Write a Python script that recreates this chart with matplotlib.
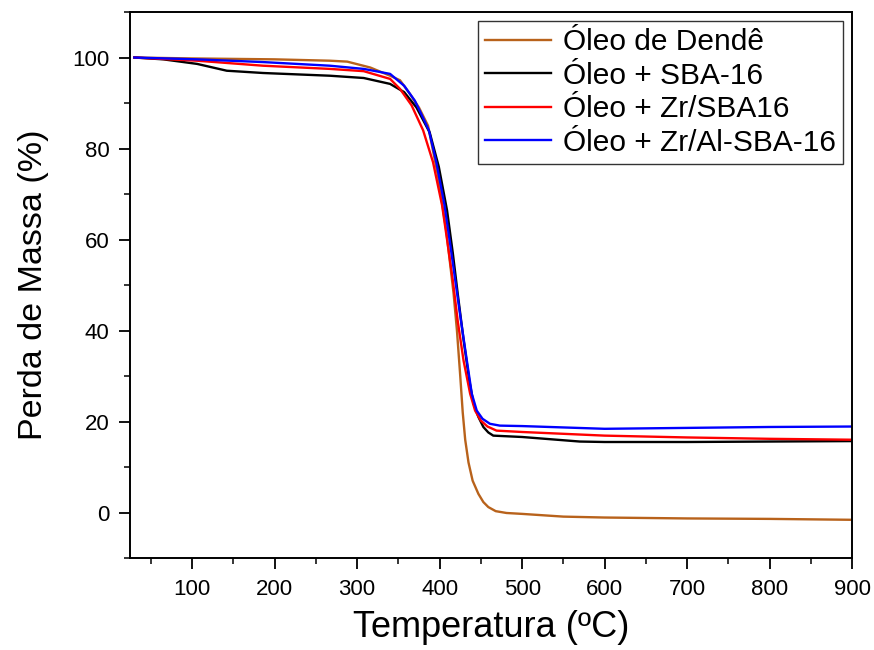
import numpy as np
import matplotlib.pyplot as plt
from matplotlib.ticker import MultipleLocator

plt.rcParams['font.family'] = ['Liberation Sans', 'DejaVu Sans']

# Óleo de Dendê
t_dende = [30, 100, 200, 267, 288, 316, 340, 352, 364, 375, 386, 398, 408, 417,
           421, 425, 428, 431, 435, 440, 447, 453, 459, 468, 481, 500, 550, 600,
           700, 800, 900]
m_dende = [100, 99.8, 99.6, 99.3, 99.1, 97.8, 96.0, 95.0, 92.0, 89.0, 85.0, 74, 62, 48,
           40, 30, 22, 16, 11, 7, 4.1, 2.3, 1.2, 0.3, -0.1, -0.3, -0.9, -1.1,
           -1.3, -1.4, -1.6]

# Óleo + SBA-16
t_sba = [30, 65, 106, 142, 186, 267, 308, 340, 357, 372, 388, 399, 409, 416,
         422, 429, 436, 441, 447, 453, 459, 465, 500, 570, 600, 700, 800, 900]
m_sba = [100, 99.6, 98.6, 97.1, 96.6, 96.0, 95.5, 94.2, 92.4, 89, 83.5, 76, 66.4, 57,
         48, 38, 29, 24, 21, 18.8, 17.6, 16.9, 16.6, 15.6, 15.5, 15.5, 15.6, 15.7]

# Óleo + Zr/SBA16
t_zr = [30, 106, 186, 267, 308, 340, 352, 366, 380, 392, 403, 409, 416, 422,
        429, 437, 443, 450, 458, 469, 500, 600, 700, 800, 900]
m_zr = [100, 99.3, 98.2, 97.5, 97.0, 95.3, 93.1, 89.5, 84, 77, 67.5, 60, 51, 42,
        33.4, 26.1, 22.4, 20.2, 18.9, 18.0, 17.7, 16.9, 16.5, 16.2, 16.0]

# Óleo + Zr/Al-SBA-16
t_zral = [30, 106, 186, 267, 308, 340, 357, 370, 378, 387, 396, 406, 412, 419,
          426, 433, 439, 445, 452, 461, 473, 500, 600, 700, 800, 900]
m_zral = [100, 99.6, 99.0, 98.2, 97.5, 96.4, 93.8, 90.5, 87.5, 84, 77, 67.5, 60, 51,
          42, 33.4, 26.1, 22.4, 20.6, 19.5, 19.1, 19.0, 18.4, 18.6, 18.8, 18.9]

fig = plt.figure(figsize=(8.74, 6.5), dpi=100)
ax = fig.add_axes([0.149, 0.1415, 0.826, 0.84])

ax.plot(t_dende, m_dende, color='#B8621B', lw=1.7, label='Óleo de Dendê')
ax.plot(t_sba, m_sba, color='black', lw=1.7, label='Óleo + SBA-16')
ax.plot(t_zr, m_zr, color='#FF0000', lw=1.7, label='Óleo + Zr/SBA16')
ax.plot(t_zral, m_zral, color='#0000FF', lw=1.7, label='Óleo + Zr/Al-SBA-16')

ax.set_xlim(25, 900)
ax.set_ylim(-10, 110)
ax.xaxis.set_major_locator(MultipleLocator(100))
ax.xaxis.set_minor_locator(MultipleLocator(50))
ax.yaxis.set_major_locator(MultipleLocator(20))
ax.yaxis.set_minor_locator(MultipleLocator(10))
ax.tick_params(which='major', direction='out', length=8, width=1.3,
               labelsize=16, pad=7)
ax.tick_params(which='minor', direction='out', length=4.5, width=1.1)
for s in ax.spines.values():
    s.set_linewidth(1.4)

ax.set_xlabel('Temperatura (ºC)', fontsize=26, labelpad=7)
ax.set_ylabel('Perda de Massa (%)', fontsize=24.5, labelpad=17)

leg = ax.legend(loc='upper right', fontsize=21.5, frameon=True, fancybox=False,
                edgecolor='black', handlelength=2.2, labelspacing=0.18,
                borderpad=0.25, handletextpad=0.4, borderaxespad=0.3)
leg.get_frame().set_linewidth(1.0)

fig.savefig('out.png', dpi=100)
